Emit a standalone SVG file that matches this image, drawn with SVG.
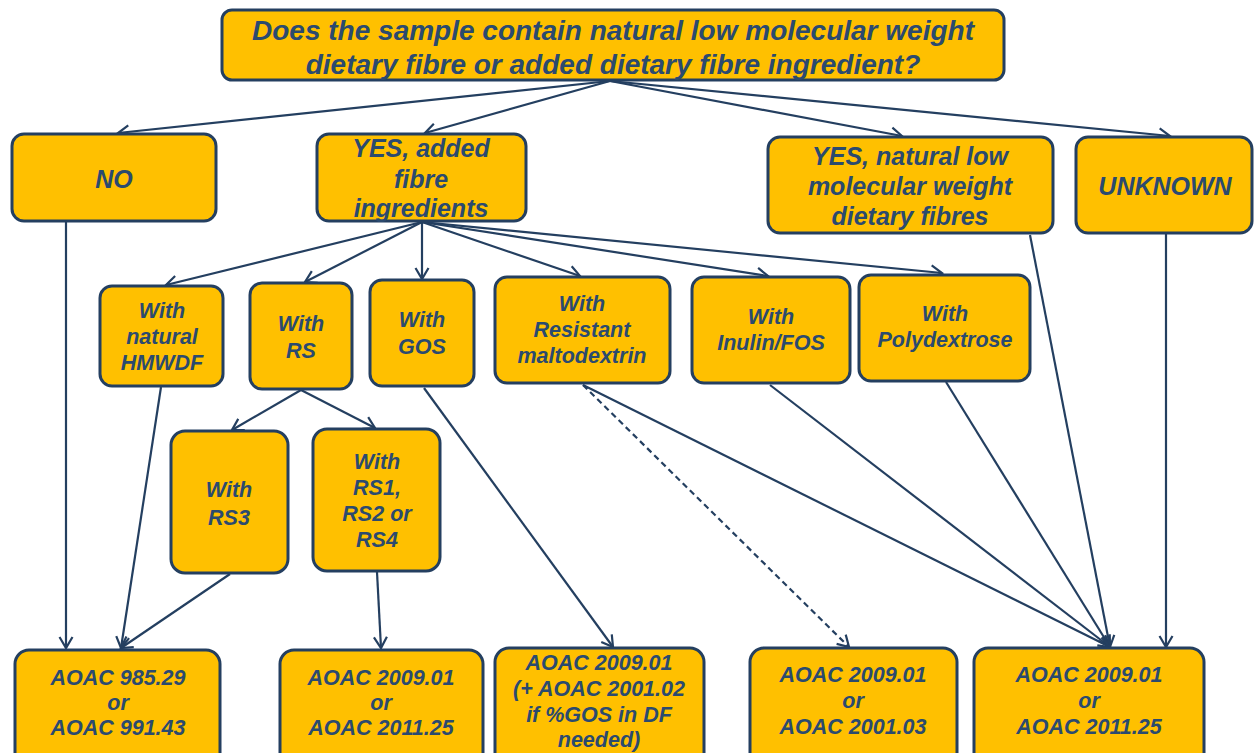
<svg xmlns="http://www.w3.org/2000/svg" width="1254" height="753" viewBox="0 0 1254 753">
<defs>
<style>
.n{fill:#FFC000;stroke:#243F60;stroke-width:3}
.t{font-family:"Liberation Sans",Arial,sans-serif;font-style:italic;font-weight:bold;fill:#2B4A6F;text-anchor:middle}
.q{font-size:28px}
.a{font-size:25px}
.b{font-size:21.5px}
.c{fill:none;stroke:#243F60;stroke-width:2.2}
.d{stroke-dasharray:6 4}
</style>
<marker id="ah" markerUnits="userSpaceOnUse" markerWidth="18" markerHeight="18" refX="13" refY="8" orient="auto">
<path d="M2,1.5 L13,8 L2,14.5" fill="none" stroke="#243F60" stroke-width="2.2"/>
</marker>
</defs>
<rect width="1254" height="753" fill="#fff"/>
<g id="connectors">
<line class="c" x1="610" y1="81" x2="118" y2="133" marker-end="url(#ah)"/>
<line class="c" x1="610" y1="81" x2="425" y2="133" marker-end="url(#ah)"/>
<line class="c" x1="610" y1="81" x2="902" y2="136" marker-end="url(#ah)"/>
<line class="c" x1="610" y1="81" x2="1170" y2="136" marker-end="url(#ah)"/>
<line class="c" x1="422" y1="222" x2="166" y2="285" marker-end="url(#ah)"/>
<line class="c" x1="422" y1="222" x2="305" y2="282" marker-end="url(#ah)"/>
<line class="c" x1="422" y1="222" x2="422" y2="279" marker-end="url(#ah)"/>
<line class="c" x1="422" y1="222" x2="580" y2="276" marker-end="url(#ah)"/>
<line class="c" x1="422" y1="222" x2="768" y2="276" marker-end="url(#ah)"/>
<line class="c" x1="422" y1="222" x2="942" y2="273" marker-end="url(#ah)"/>
<line class="c" x1="301" y1="390" x2="232" y2="430" marker-end="url(#ah)"/>
<line class="c" x1="301" y1="390" x2="375" y2="428" marker-end="url(#ah)"/>
<line class="c" x1="66" y1="222" x2="66" y2="648" marker-end="url(#ah)"/>
<line class="c" x1="161" y1="387" x2="121" y2="648" marker-end="url(#ah)"/>
<line class="c" x1="230" y1="574" x2="121" y2="648" marker-end="url(#ah)"/>
<line class="c" x1="377" y1="572" x2="381" y2="648" marker-end="url(#ah)"/>
<line class="c" x1="424" y1="388" x2="613" y2="647" marker-end="url(#ah)"/>
<line class="c d" x1="583" y1="385" x2="849" y2="647" marker-end="url(#ah)"/>
<line class="c" x1="583" y1="385" x2="1110" y2="647" marker-end="url(#ah)"/>
<line class="c" x1="770" y1="385" x2="1110" y2="647" marker-end="url(#ah)"/>
<line class="c" x1="946" y1="382" x2="1110" y2="647" marker-end="url(#ah)"/>
<line class="c" x1="1030" y1="235" x2="1110" y2="647" marker-end="url(#ah)"/>
<line class="c" x1="1166" y1="234" x2="1166" y2="647" marker-end="url(#ah)"/>
</g>
<g id="question">
<rect class="n" x="222" y="10" width="782" height="70" rx="10"/>
<text class="t q" x="613" y="40">Does the sample contain natural low molecular weight</text>
<text class="t q" x="613" y="74">dietary fibre or added dietary fibre ingredient?</text>
</g>
<g id="no">
<rect class="n" x="12" y="134" width="204" height="87" rx="12"/>
<text class="t a" x="114" y="188">NO</text>
</g>
<g id="yes-added">
<rect class="n" x="317" y="134" width="209" height="87" rx="12"/>
<text class="t a" x="421" y="157">YES, added</text>
<text class="t a" x="421" y="188">fibre</text>
<text class="t a" x="421" y="217">ingredients</text>
</g>
<g id="yes-natural">
<rect class="n" x="768" y="137" width="285" height="96" rx="12"/>
<text class="t a" x="910" y="165">YES, natural low</text>
<text class="t a" x="910" y="195">molecular weight</text>
<text class="t a" x="910" y="225">dietary fibres</text>
</g>
<g id="unknown">
<rect class="n" x="1076" y="137" width="176" height="96" rx="12"/>
<text class="t a" x="1165" y="195">UNKNOWN</text>
</g>
<g id="hmwdf">
<rect class="n" x="100" y="286" width="123" height="100" rx="12"/>
<text class="t b" x="162" y="318">With</text>
<text class="t b" x="162" y="344">natural</text>
<text class="t b" x="162" y="370">HMWDF</text>
</g>
<g id="rs">
<rect class="n" x="250" y="283" width="102" height="106" rx="12"/>
<text class="t b" x="301" y="331">With</text>
<text class="t b" x="301" y="358">RS</text>
</g>
<g id="gos">
<rect class="n" x="370" y="280" width="104" height="106" rx="12"/>
<text class="t b" x="422" y="327">With</text>
<text class="t b" x="422" y="354">GOS</text>
</g>
<g id="maltodextrin">
<rect class="n" x="495" y="277" width="175" height="106" rx="12"/>
<text class="t b" x="582" y="311">With</text>
<text class="t b" x="582" y="337">Resistant</text>
<text class="t b" x="582" y="363">maltodextrin</text>
</g>
<g id="inulin">
<rect class="n" x="692" y="277" width="158" height="106" rx="12"/>
<text class="t b" x="771" y="324">With</text>
<text class="t b" x="771" y="350">Inulin/FOS</text>
</g>
<g id="polydextrose">
<rect class="n" x="859" y="275" width="171" height="106" rx="12"/>
<text class="t b" x="945" y="321">With</text>
<text class="t b" x="945" y="347">Polydextrose</text>
</g>
<g id="rs3">
<rect class="n" x="171" y="431" width="117" height="142" rx="14"/>
<text class="t b" x="229" y="497">With</text>
<text class="t b" x="229" y="525">RS3</text>
</g>
<g id="rs124">
<rect class="n" x="313" y="429" width="127" height="142" rx="14"/>
<text class="t b" x="377" y="469">With</text>
<text class="t b" x="377" y="495">RS1,</text>
<text class="t b" x="377" y="521">RS2 or</text>
<text class="t b" x="377" y="547">RS4</text>
</g>
<g id="m1">
<rect class="n" x="15" y="650" width="205" height="120" rx="14"/>
<text class="t b" x="118" y="685">AOAC 985.29</text>
<text class="t b" x="118" y="710">or</text>
<text class="t b" x="118" y="735">AOAC 991.43</text>
</g>
<g id="m2">
<rect class="n" x="280" y="650" width="203" height="120" rx="14"/>
<text class="t b" x="381" y="685">AOAC 2009.01</text>
<text class="t b" x="381" y="710">or</text>
<text class="t b" x="381" y="735">AOAC 2011.25</text>
</g>
<g id="m3">
<rect class="n" x="495" y="648" width="209" height="120" rx="14"/>
<text class="t b" x="599" y="670">AOAC 2009.01</text>
<text class="t b" x="599" y="696">(+ AOAC 2001.02</text>
<text class="t b" x="599" y="722">if  %GOS in DF</text>
<text class="t b" x="599" y="747">needed)</text>
</g>
<g id="m4">
<rect class="n" x="750" y="648" width="207" height="120" rx="14"/>
<text class="t b" x="853" y="682">AOAC 2009.01</text>
<text class="t b" x="853" y="708">or</text>
<text class="t b" x="853" y="734">AOAC 2001.03</text>
</g>
<g id="m5">
<rect class="n" x="974" y="648" width="230" height="120" rx="14"/>
<text class="t b" x="1089" y="682">AOAC 2009.01</text>
<text class="t b" x="1089" y="708">or</text>
<text class="t b" x="1089" y="734">AOAC 2011.25</text>
</g>
</svg>
